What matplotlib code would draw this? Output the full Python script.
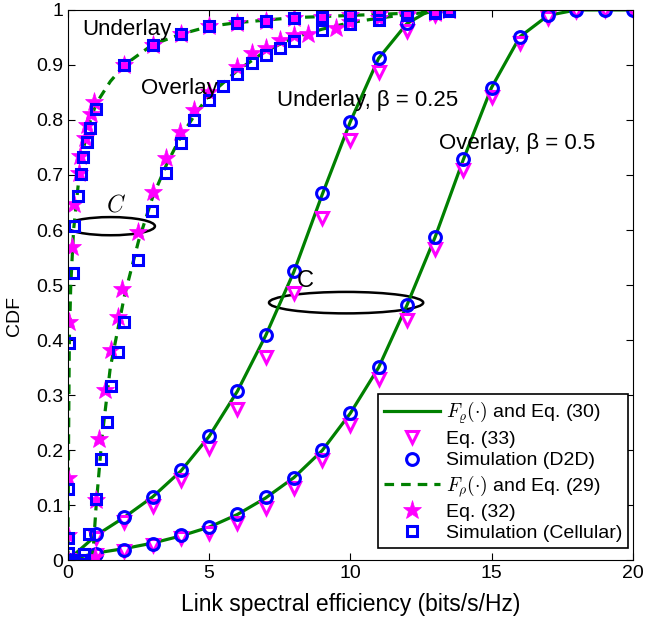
import numpy as np
import matplotlib
matplotlib.use("Agg")
import matplotlib.pyplot as plt
from matplotlib.patches import Ellipse

plt.rcParams['font.family'] = ['Liberation Sans', 'DejaVu Sans']
plt.rcParams['mathtext.fontset'] = 'cm'

# ---- D2D, underlay (beta = 0.25) ----
d2d_under_line_x = [0, 1, 2, 3, 4, 5, 6, 7, 8, 9, 10, 11, 12, 12.6, 13]
d2d_under_line_y = [0, 0.045, 0.078, 0.115, 0.162, 0.225, 0.307, 0.408, 0.524, 0.664, 0.797, 0.912, 0.975, 0.993, 1.0]
d2d_under_sim_x = [0, 1, 2, 3, 4, 5, 6, 7, 8, 9, 10, 11, 12, 13]
d2d_under_sim_y = [0, 0.047, 0.079, 0.115, 0.163, 0.225, 0.308, 0.409, 0.526, 0.667, 0.797, 0.913, 0.976, 1.0]
d2d_under_eq_x = [0, 1, 2, 3, 4, 5, 6, 7, 8, 9, 10, 11, 12, 13]
d2d_under_eq_y = [0, 0.04, 0.07, 0.098, 0.145, 0.203, 0.274, 0.37, 0.486, 0.621, 0.764, 0.888, 0.961, 0.99]

# ---- D2D, overlay (beta = 0.5) ----
d2d_over_line_x = [0, 1, 2, 3, 4, 5, 6, 7, 8, 9, 10, 11, 12, 13, 14, 15, 16, 17, 18, 19, 20]
d2d_over_line_y = [0, 0.013, 0.021, 0.031, 0.044, 0.06, 0.083, 0.113, 0.15, 0.199, 0.267, 0.35, 0.463, 0.587, 0.728, 0.859, 0.951, 0.99, 1.0, 1.0, 1.0]
d2d_over_sim_x = [0, 1, 2, 3, 4, 5, 6, 7, 8, 9, 10, 11, 12, 13, 14, 15, 16, 17, 18, 19, 20]
d2d_over_sim_y = [0, 0.012, 0.019, 0.03, 0.045, 0.061, 0.083, 0.114, 0.15, 0.2, 0.268, 0.351, 0.464, 0.588, 0.729, 0.859, 0.951, 0.991, 1.0, 1.0, 1.0]
d2d_over_eq_x = [0, 1, 2, 3, 4, 5, 6, 7, 8, 9, 10, 11, 12, 13, 14, 15, 16, 17, 18, 19, 20]
d2d_over_eq_y = [0, 0.01, 0.017, 0.027, 0.04, 0.049, 0.068, 0.095, 0.132, 0.182, 0.245, 0.33, 0.436, 0.565, 0.709, 0.841, 0.94, 0.985, 0.998, 1.0, 1.0]

# ---- Cellular, underlay ----
cell_under_line_x = [0, 0.01, 0.02, 0.05, 0.1, 0.2, 0.4, 0.6, 0.8, 1.0, 1.5, 2, 3, 4, 5, 6, 8, 10, 12, 13.5]
cell_under_line_y = [0, 0.1, 0.2, 0.4, 0.5, 0.6, 0.7, 0.76, 0.8, 0.83, 0.87, 0.9, 0.937, 0.956, 0.97, 0.977, 0.986, 0.99, 0.994, 1.0]
cell_under_eq_x = [0, 0, 0, 0.05, 0.15, 0.23, 0.38, 0.43, 0.59, 0.69, 0.8, 0.94, 2, 3, 4, 5, 6, 7, 8, 9, 10, 11, 12, 13, 13.5]
cell_under_eq_y = [0, 0.045, 0.149, 0.433, 0.569, 0.647, 0.703, 0.735, 0.767, 0.79, 0.81, 0.833, 0.9, 0.937, 0.956, 0.971, 0.977, 0.98, 0.986, 0.988, 0.99, 0.992, 0.994, 0.997, 1.0]
cell_under_sim_x = [0, 0, 0, 0.05, 0.17, 0.23, 0.36, 0.47, 0.55, 0.67, 0.77, 0.98, 2, 3, 4, 5, 6, 7, 8, 9, 10, 11, 12, 13, 13.5]
cell_under_sim_y = [0.013, 0.04, 0.13, 0.394, 0.522, 0.607, 0.662, 0.702, 0.733, 0.76, 0.785, 0.82, 0.9, 0.936, 0.956, 0.97, 0.977, 0.98, 0.986, 0.988, 0.99, 0.992, 0.994, 0.997, 0.999]

# ---- Cellular, overlay ----
cell_over_line_x = [0.87, 1.0, 1.2, 1.5, 2.0, 2.5, 3.0, 3.5, 4, 4.5, 5, 6, 7, 8, 9, 10, 11, 12, 13, 13.5]
cell_over_line_y = [0.0, 0.1, 0.22, 0.35, 0.48, 0.58, 0.66, 0.72, 0.77, 0.81, 0.845, 0.89, 0.925, 0.95, 0.965, 0.977, 0.985, 0.992, 0.997, 1.0]
cell_over_eq_x = [0.95, 1.0, 1.1, 1.3, 1.54, 1.77, 1.93, 2.48, 3.0, 3.47, 3.97, 4.48, 5.0, 6.0, 6.5, 7, 7.5, 8, 8.5, 9.5, 10, 11, 12, 13, 13.5]
cell_over_eq_y = [0.006, 0.11, 0.221, 0.309, 0.382, 0.442, 0.492, 0.597, 0.67, 0.73, 0.779, 0.818, 0.851, 0.897, 0.921, 0.93, 0.945, 0.955, 0.957, 0.967, 0.978, 0.985, 0.99, 0.995, 1.0]
cell_over_sim_x = [0, 0.22, 0.45, 0.58, 0.75, 1.0, 1.17, 1.37, 1.54, 1.77, 1.98, 2.48, 2.98, 3.47, 3.99, 4.48, 5.0, 5.5, 6, 6.5, 7, 7.5, 8, 9, 10, 11, 12, 13, 13.5]
cell_over_sim_y = [0, 0, 0, 0.012, 0.048, 0.112, 0.183, 0.251, 0.316, 0.378, 0.433, 0.545, 0.635, 0.704, 0.759, 0.8, 0.837, 0.862, 0.884, 0.903, 0.919, 0.931, 0.944, 0.964, 0.975, 0.982, 0.99, 0.995, 0.998]

green = '#008000'
magenta = '#ff00ff'
blue = '#0000ff'

fig = plt.figure(figsize=(6.47, 6.21), dpi=100)
ax = fig.add_axes([0.105, 0.098, 0.873, 0.886])

# lines
ax.plot(d2d_under_line_x, d2d_under_line_y, '-', color=green, lw=2.3,
        label=r'$F_{\varrho}(\cdot)$ and Eq. (30)')
ax.plot(d2d_over_line_x, d2d_over_line_y, '-', color=green, lw=2.3)

# D2D markers
ax.plot(d2d_under_eq_x, d2d_under_eq_y, 'v', ls='none', mec=magenta, mfc='white', ms=9, mew=2.2,
        label='Eq. (33)')
ax.plot(d2d_over_eq_x, d2d_over_eq_y, 'v', ls='none', mec=magenta, mfc='white', ms=9, mew=2.2)
ax.plot(d2d_under_sim_x, d2d_under_sim_y, 'o', ls='none', mec=blue, mfc='none', ms=8.5, mew=2.2,
        label='Simulation (D2D)')
ax.plot(d2d_over_sim_x, d2d_over_sim_y, 'o', ls='none', mec=blue, mfc='none', ms=8.5, mew=2.2)

# cellular
ax.plot(cell_under_line_x, cell_under_line_y, '--', color=green, lw=2.3, dashes=(3, 2.2),
        label=r'$F_{\rho}(\cdot)$ and Eq. (29)')
ax.plot(cell_over_line_x, cell_over_line_y, '--', color=green, lw=2.3, dashes=(3, 2.2))
ax.plot(cell_under_eq_x, cell_under_eq_y, '*', ls='none', color=magenta, ms=14, mew=0.5,
        label='Eq. (32)')
ax.plot(cell_over_eq_x, cell_over_eq_y, '*', ls='none', color=magenta, ms=14, mew=0.5)
ax.plot(cell_under_sim_x, cell_under_sim_y, 's', ls='none', mec=blue, mfc='none', ms=7.5, mew=2.2,
        label='Simulation (Cellular)')
ax.plot(cell_over_sim_x, cell_over_sim_y, 's', ls='none', mec=blue, mfc='none', ms=7.5, mew=2.2)

# ellipses and annotations
ax.add_patch(Ellipse((1.51, 0.607), 3.14, 0.033, fill=False, ec='black', lw=1.8))
ax.add_patch(Ellipse((9.85, 0.468), 5.46, 0.039, fill=False, ec='black', lw=1.8))
ax.text(1.69, 0.645, '$C$', fontsize=17, ha='center', va='center')
ax.text(8.4, 0.507, 'C', fontsize=17, ha='center', va='center')
ax.text(0.5, 0.964, 'Underlay', fontsize=16, va='center')
ax.text(2.58, 0.858, 'Overlay', fontsize=16, va='center')
ax.text(7.42, 0.835, 'Underlay, β = 0.25', fontsize=16, va='center')
ax.text(13.15, 0.758, 'Overlay, β = 0.5', fontsize=16, va='center')

ax.set_xlim(0, 20)
ax.set_ylim(0, 1)
ax.set_xticks([0, 5, 10, 15, 20])
ax.set_yticks(np.arange(0, 1.01, 0.1))
ax.set_yticklabels(['0', '0.1', '0.2', '0.3', '0.4', '0.5', '0.6', '0.7', '0.8', '0.9', '1'])
ax.tick_params(direction='in', top=True, right=True, labelsize=14, length=5)
ax.set_xlabel('Link spectral efficiency (bits/s/Hz)', fontsize=16.5, labelpad=8)
ax.set_ylabel('CDF', fontsize=14)
ax.yaxis.set_label_coords(-0.08, 0.444)

leg = ax.legend(loc='lower right', bbox_to_anchor=(0.992, 0.022), fontsize=14, handlelength=2.9,
                labelspacing=0.2, borderpad=0.3, handletextpad=0.3, borderaxespad=0,
                fancybox=False, framealpha=1, edgecolor='black')
leg.get_frame().set_linewidth(1.2)

fig.savefig('out.png', dpi=100)
